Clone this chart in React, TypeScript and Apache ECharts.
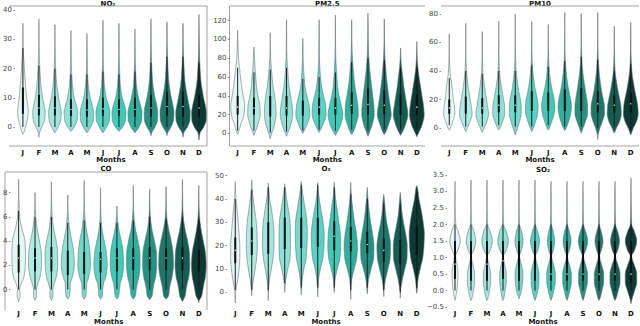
import React, { useEffect, useRef } from 'react';
import * as echarts from 'echarts';

const months = ['J', 'F', 'M', 'A', 'M', 'J', 'J', 'A', 'S', 'O', 'N', 'D'];
const monthColors = ['#e3f8f5', '#aeece4', '#a0e7df', '#8be2d7', '#6fdacd', '#55d3c4', '#3ccbb9', '#2cb09f', '#229282', '#1b786b', '#135e53', '#0b3b34'];

// ---------- NO2 ----------
const no2Levels = [-4, -2, 0, 2.5, 5, 7.5, 10, 12.5, 15, 20, 25, 30, 35, 40];
const no2Widths = [
  [0, 0.1, 0.35, 0.6, 0.72, 0.65, 0.5, 0.42, 0.33, 0.2, 0.08, 0.03, 0.01, 0],
  [0, 0.08, 0.4, 0.78, 0.85, 0.7, 0.5, 0.35, 0.25, 0.12, 0.05, 0.02, 0.01, 0],
  [0, 0.05, 0.45, 0.8, 0.85, 0.7, 0.5, 0.35, 0.22, 0.1, 0.04, 0.02, 0.01, 0],
  [0, 0, 0.45, 0.85, 0.92, 0.72, 0.45, 0.3, 0.18, 0.08, 0.03, 0.01, 0, 0],
  [0, 0.05, 0.5, 0.88, 0.92, 0.7, 0.45, 0.28, 0.16, 0.07, 0.03, 0.01, 0, 0],
  [0, 0.05, 0.5, 0.9, 0.95, 0.75, 0.45, 0.28, 0.17, 0.08, 0.03, 0.02, 0.01, 0],
  [0, 0, 0.5, 0.9, 0.95, 0.75, 0.45, 0.28, 0.17, 0.08, 0.03, 0.02, 0.01, 0],
  [0, 0.05, 0.55, 0.92, 0.95, 0.75, 0.48, 0.3, 0.18, 0.08, 0.03, 0.01, 0, 0],
  [0, 0.1, 0.55, 0.9, 0.92, 0.78, 0.55, 0.38, 0.25, 0.12, 0.05, 0.02, 0.01, 0],
  [0, 0.1, 0.55, 0.9, 0.95, 0.8, 0.6, 0.42, 0.28, 0.14, 0.06, 0.02, 0.01, 0],
  [0, 0.12, 0.6, 0.95, 0.98, 0.82, 0.62, 0.45, 0.3, 0.15, 0.06, 0.02, 0.01, 0],
  [0.02, 0.15, 0.65, 0.98, 1.0, 0.85, 0.62, 0.45, 0.3, 0.15, 0.06, 0.03, 0.01, 0],
];
const no2Lo = [-2.5, -3.5, -2, -1.5, -2, -2, -1.5, -2, -3, -3, -3.5, -4.5];
const no2Hi = [35.5, 37, 35, 33, 32, 36.5, 35.5, 33.5, 37, 36, 35.5, 38.5];
const no2Q1 = [4.5, 4, 4, 3.8, 3.5, 3.8, 3.8, 3.5, 3.5, 3.8, 3.5, 3.5];
const no2Med = [8, 6.5, 6.5, 6, 5.8, 6.2, 6, 6, 6.5, 7, 7, 6.5];
const no2Q3 = [13.5, 11, 10.5, 9.5, 9.5, 10, 9.5, 10, 11, 12, 12, 11];
const no2WhiskLo = [0, 0, 0, 0, 0, 0, 0, 0, 0, 0, 0, 0];
const no2WhiskHi = [27, 21, 20, 18, 18, 19, 18, 19, 22, 24, 24, 22];
const no2Ticks = [0, 10, 20, 30, 40];

// ---------- PM2.5 ----------
const pm25Levels = [-10, -5, 0, 10, 20, 30, 40, 50, 60, 70, 80, 100, 120, 130];
const pm25Widths = [
  [0, 0, 0.05, 0.45, 0.85, 0.95, 0.75, 0.55, 0.4, 0.25, 0.12, 0.03, 0, 0],
  [0, 0, 0.1, 0.55, 0.85, 0.8, 0.55, 0.35, 0.25, 0.15, 0.08, 0, 0, 0],
  [0, 0.02, 0.2, 0.6, 0.8, 0.75, 0.6, 0.4, 0.25, 0.15, 0.06, 0.01, 0, 0],
  [0, 0, 0.15, 0.6, 0.85, 0.75, 0.55, 0.35, 0.22, 0.15, 0.06, 0.02, 0.01, 0],
  [0, 0, 0.05, 0.6, 0.95, 0.85, 0.55, 0.3, 0.18, 0.1, 0.05, 0.01, 0, 0],
  [0, 0, 0, 0.55, 0.95, 0.9, 0.6, 0.35, 0.2, 0.1, 0.05, 0.02, 0.01, 0],
  [0, 0, 0.15, 0.75, 1.0, 0.8, 0.5, 0.3, 0.2, 0.12, 0.06, 0.02, 0.01, 0],
  [0, 0, 0.1, 0.6, 0.9, 0.85, 0.65, 0.45, 0.3, 0.2, 0.1, 0.03, 0.01, 0],
  [0, 0, 0.15, 0.6, 0.85, 0.8, 0.65, 0.5, 0.35, 0.22, 0.12, 0.04, 0.02, 0],
  [0, 0, 0.1, 0.6, 0.95, 0.8, 0.6, 0.45, 0.3, 0.2, 0.1, 0.03, 0.01, 0],
  [0, 0, 0.15, 0.7, 1.0, 0.85, 0.65, 0.45, 0.3, 0.15, 0.05, 0, 0, 0],
  [0, 0, 0.2, 0.75, 1.0, 0.9, 0.7, 0.5, 0.3, 0.15, 0.06, 0, 0, 0],
];
const pm25Lo = [-1, -2, -5.5, -3, 0, 1, -2, -1, -3, -1, -2, -3.5];
const pm25Hi = [109.5, 92, 107, 121, 101, 121, 126, 121, 128, 122, 91, 98];
const pm25Q1 = [20, 20, 18, 19, 19, 20, 20, 21, 20, 20, 20, 20];
const pm25Med = [28, 27, 26, 27, 26, 28, 27, 30, 31, 30, 29, 28];
const pm25Q3 = [40, 38, 40, 40, 35, 38, 38, 44, 48, 46, 42, 42];
const pm25WhiskLo = [3, 3, 1, 2, 3, 4, 3, 4, 3, 4, 4, 4];
const pm25WhiskHi = [70, 65, 68, 70, 58, 60, 65, 76, 80, 78, 70, 70];
const pm25Ticks = [0, 20, 40, 60, 80, 100, 120];

// ---------- PM10 ----------
const pm10Levels = [-10, -5, 0, 5, 10, 15, 20, 25, 30, 40, 50, 60, 70, 80, 85];
const pm10Widths = [
  [0, 0, 0.15, 0.5, 0.75, 0.7, 0.55, 0.45, 0.35, 0.1, 0.03, 0.01, 0, 0, 0],
  [0, 0, 0.2, 0.6, 0.85, 0.75, 0.6, 0.45, 0.3, 0.1, 0.03, 0.01, 0.005, 0, 0],
  [0, 0, 0.25, 0.65, 0.85, 0.72, 0.58, 0.42, 0.28, 0.08, 0.03, 0.01, 0, 0, 0],
  [0, 0, 0.15, 0.55, 0.8, 0.8, 0.65, 0.48, 0.32, 0.1, 0.03, 0.01, 0.005, 0, 0],
  [0, 0.02, 0.3, 0.6, 0.8, 0.8, 0.7, 0.5, 0.35, 0.12, 0.04, 0.015, 0.01, 0, 0],
  [0, 0, 0.2, 0.55, 0.8, 0.85, 0.75, 0.55, 0.38, 0.15, 0.05, 0.02, 0.005, 0, 0],
  [0, 0, 0.15, 0.5, 0.8, 0.9, 0.8, 0.6, 0.4, 0.15, 0.05, 0.015, 0.005, 0, 0],
  [0, 0, 0.2, 0.55, 0.8, 0.9, 0.8, 0.6, 0.42, 0.18, 0.06, 0.02, 0.01, 0.005, 0],
  [0, 0.02, 0.25, 0.6, 0.85, 0.85, 0.75, 0.6, 0.45, 0.2, 0.07, 0.025, 0.01, 0.005, 0],
  [0, 0.05, 0.3, 0.65, 0.9, 0.9, 0.75, 0.55, 0.4, 0.18, 0.06, 0.02, 0.01, 0.005, 0],
  [0, 0.02, 0.3, 0.75, 0.95, 0.9, 0.75, 0.55, 0.38, 0.12, 0.04, 0.015, 0.005, 0, 0],
  [0, 0.05, 0.35, 0.8, 1.0, 0.95, 0.8, 0.6, 0.42, 0.15, 0.05, 0.02, 0.01, 0, 0],
];
const pm10Lo = [-1.5, -2.6, -3, -1.4, -5, -2.6, -1.4, -1.9, -3.7, -8, -3.7, -5];
const pm10Hi = [66, 73.5, 67.6, 75, 80, 74.6, 72.7, 81, 80.5, 81, 71.6, 74];
const pm10Q1 = [10, 10, 10, 11, 11, 12, 12, 12, 12, 11, 11, 11];
const pm10Med = [14, 15, 14, 16, 16, 18, 18, 18, 18, 17, 16, 17];
const pm10Q3 = [20, 22, 21, 23, 23, 26, 25, 27, 28, 26, 23, 25];
const pm10WhiskLo = [2, 1, 1, 2, 1, 1, 2, 1, 1, 0, 1, 0];
const pm10WhiskHi = [35, 40, 38, 40, 40, 44, 43, 47, 50, 48, 40, 45];
const pm10Ticks = [0, 20, 40, 60, 80];

// ---------- CO ----------
const coLevels = [-1.5, -1, -0.5, 0, 0.5, 1, 2, 3, 4, 5, 6, 7, 8, 9, 9.5];
const coWidths = [
  [0, 0, 0.2, 0.15, 0.35, 0.7, 0.9, 0.92, 0.85, 0.45, 0.15, 0.06, 0.02, 0.01, 0],
  [0, 0, 0.22, 0.2, 0.4, 0.65, 0.88, 0.85, 0.6, 0.3, 0.1, 0.03, 0.01, 0, 0],
  [0, 0, 0.22, 0.2, 0.4, 0.65, 0.85, 0.85, 0.65, 0.3, 0.12, 0.04, 0.015, 0, 0],
  [0, 0, 0.25, 0.32, 0.35, 0.6, 0.88, 0.82, 0.55, 0.25, 0.08, 0.02, 0, 0, 0],
  [0, 0, 0.25, 0.3, 0.35, 0.6, 0.85, 0.8, 0.6, 0.3, 0.1, 0.03, 0.01, 0, 0],
  [0, 0, 0.25, 0.3, 0.4, 0.7, 0.9, 0.8, 0.5, 0.2, 0.06, 0.02, 0.01, 0, 0],
  [0, 0, 0.25, 0.35, 0.45, 0.7, 0.9, 0.85, 0.6, 0.25, 0.06, 0.01, 0, 0, 0],
  [0, 0, 0.3, 0.4, 0.55, 0.75, 0.92, 0.9, 0.65, 0.3, 0.1, 0.03, 0.01, 0, 0],
  [0, 0, 0.35, 0.45, 0.6, 0.8, 0.95, 0.92, 0.65, 0.3, 0.1, 0.03, 0.01, 0, 0],
  [0, 0, 0.35, 0.45, 0.6, 0.8, 1.0, 0.95, 0.7, 0.35, 0.1, 0.03, 0.01, 0, 0],
  [0, 0, 0.38, 0.5, 0.65, 0.85, 1.0, 0.95, 0.7, 0.35, 0.12, 0.04, 0.02, 0.01, 0],
  [0, 0.02, 0.4, 0.55, 0.7, 0.88, 1.0, 0.9, 0.6, 0.3, 0.1, 0.03, 0.01, 0, 0],
];
const coLo = [-1, -0.9, -0.9, -0.8, -0.8, -0.8, -0.8, -0.8, -0.85, -0.8, -1, -1.1];
const coHi = [9.1, 8.0, 8.9, 7.8, 9.0, 8.4, 6.9, 8.6, 8.3, 8.5, 9.1, 8.6];
const coQ1 = [1.4, 1.5, 1.5, 1.2, 1.3, 1.4, 1.5, 1.6, 1.6, 1.6, 1.6, 1.5];
const coMed = [2.6, 2.6, 2.6, 2.4, 2.4, 2.5, 2.6, 2.6, 2.6, 2.6, 2.6, 2.4];
const coQ3 = [3.7, 3.4, 3.5, 3.2, 3.1, 3.1, 3.4, 3.4, 3.5, 3.4, 3.5, 3.3];
const coWhiskLo = [0, 0, 0, 0, 0, 0, 0, 0, 0, 0, 0, 0];
const coWhiskHi = [6.5, 6, 6, 5.5, 5.7, 5.5, 5.5, 5.7, 6, 5.8, 6, 5.8];
const coTicks = [0, 2, 4, 6, 8];

// ---------- O3 ----------
const o3Levels = [-5, 0, 5, 10, 15, 20, 25, 30, 35, 40, 45, 50];
const o3Widths = [
  [0, 0.05, 0.3, 0.5, 0.6, 0.6, 0.5, 0.38, 0.25, 0.1, 0.03, 0],
  [0, 0.02, 0.2, 0.45, 0.65, 0.72, 0.7, 0.6, 0.4, 0.2, 0.05, 0],
  [0, 0.02, 0.15, 0.4, 0.65, 0.75, 0.75, 0.65, 0.45, 0.2, 0.05, 0],
  [0, 0, 0.12, 0.4, 0.7, 0.75, 0.75, 0.7, 0.5, 0.25, 0.05, 0],
  [0, 0.02, 0.12, 0.35, 0.65, 0.75, 0.8, 0.75, 0.55, 0.3, 0.08, 0],
  [0, 0.02, 0.1, 0.35, 0.7, 0.82, 0.85, 0.7, 0.45, 0.2, 0.05, 0],
  [0, 0, 0.1, 0.4, 0.75, 0.85, 0.8, 0.6, 0.4, 0.18, 0.05, 0],
  [0, 0.02, 0.12, 0.45, 0.8, 0.88, 0.75, 0.5, 0.3, 0.12, 0.03, 0],
  [0, 0.02, 0.15, 0.5, 0.85, 0.88, 0.7, 0.45, 0.25, 0.1, 0.02, 0],
  [0, 0.02, 0.2, 0.55, 0.85, 0.9, 0.7, 0.4, 0.2, 0.08, 0.01, 0],
  [0, 0.03, 0.25, 0.6, 0.9, 0.92, 0.72, 0.42, 0.2, 0.08, 0.02, 0],
  [0, 0.02, 0.15, 0.45, 0.8, 0.95, 1.0, 0.85, 0.6, 0.3, 0.08, 0],
];
const o3Lo = [-4.5, -1.4, -3.5, 0, -1.1, -2, 0, -3, -0.7, -1.8, -2.5, -0.4];
const o3Hi = [47.5, 48.2, 46.8, 46.5, 47.5, 47, 47.2, 47.2, 45, 42, 42.8, 45.7];
const o3Q1 = [12.5, 16, 16.5, 18.5, 19, 19.5, 18, 17.5, 16.7, 13, 12, 16];
const o3Med = [18, 22, 23, 25, 25, 25, 24, 22, 20.5, 18, 17, 23];
const o3Q3 = [23.5, 27.8, 30, 32, 32, 32, 30.5, 28, 26, 23, 22.5, 28.5];
const o3WhiskLo = [1, 1, 1, 4, 2, 2, 2, 1, 2, 1, 0, 2];
const o3WhiskHi = [40, 44, 45, 45, 46, 46, 45, 42, 40, 38, 38, 43];
const o3Ticks = [0, 10, 20, 30, 40, 50];

// ---------- SO2 ----------
const so2Levels = [-0.5, -0.25, 0, 0.25, 0.5, 0.75, 0.95, 1.05, 1.2, 1.5, 1.8, 2.0, 2.5, 3, 3.5];
const so2Widths = [
  [0, 0.05, 0.25, 0.38, 0.42, 0.3, 0.12, 0.08, 0.35, 0.72, 0.45, 0.12, 0.02, 0.01, 0],
  [0, 0.1, 0.35, 0.5, 0.5, 0.3, 0.1, 0.06, 0.35, 0.65, 0.4, 0.1, 0.02, 0.01, 0],
  [0, 0.1, 0.35, 0.5, 0.5, 0.3, 0.1, 0.06, 0.4, 0.72, 0.45, 0.1, 0.02, 0.01, 0],
  [0, 0.1, 0.3, 0.45, 0.45, 0.28, 0.1, 0.07, 0.4, 0.72, 0.45, 0.1, 0.02, 0.01, 0],
  [0, 0.1, 0.35, 0.5, 0.55, 0.38, 0.15, 0.08, 0.3, 0.55, 0.35, 0.08, 0.02, 0.01, 0],
  [0, 0.1, 0.38, 0.55, 0.55, 0.35, 0.12, 0.08, 0.35, 0.62, 0.35, 0.08, 0.02, 0.01, 0],
  [0, 0.1, 0.38, 0.58, 0.6, 0.4, 0.15, 0.08, 0.3, 0.5, 0.3, 0.07, 0.02, 0.01, 0],
  [0, 0.1, 0.38, 0.6, 0.6, 0.38, 0.13, 0.07, 0.3, 0.55, 0.32, 0.07, 0.02, 0.01, 0],
  [0, 0.1, 0.38, 0.62, 0.62, 0.4, 0.15, 0.08, 0.35, 0.65, 0.35, 0.07, 0.02, 0.01, 0],
  [0, 0.12, 0.4, 0.65, 0.65, 0.4, 0.15, 0.08, 0.3, 0.55, 0.3, 0.06, 0.02, 0.01, 0],
  [0, 0.12, 0.45, 0.7, 0.7, 0.45, 0.15, 0.08, 0.35, 0.62, 0.35, 0.07, 0.02, 0.01, 0],
  [0, 0.15, 0.5, 0.8, 0.8, 0.5, 0.18, 0.1, 0.45, 0.8, 0.45, 0.1, 0.03, 0.01, 0],
];
const so2Lo = [-0.3, -0.3, -0.3, -0.3, -0.25, -0.3, -0.3, -0.3, -0.3, -0.3, -0.3, -0.4];
const so2Hi = [3.3, 3.35, 3.35, 3.35, 3.35, 3.35, 3.3, 3.3, 3.3, 3.3, 3.3, 3.4];
const so2Q1 = [0.35, 0.3, 0.3, 0.35, 0.3, 0.3, 0.3, 0.3, 0.3, 0.3, 0.3, 0.25];
const so2Med = [0.8, 0.6, 0.8, 0.9, 0.6, 0.6, 0.5, 0.5, 0.5, 0.5, 0.5, 0.5];
const so2Q3 = [1.5, 1.5, 1.5, 1.5, 1.5, 1.5, 1.5, 1.5, 1.5, 1.5, 1.5, 1.5];
const so2WhiskLo = [0, 0, 0, 0, 0, 0, 0, 0, 0, 0, 0, 0];
const so2WhiskHi = [2.0, 2.0, 2.0, 2.0, 2.0, 2.0, 2.0, 2.0, 2.0, 2.0, 2.0, 2.0];
const so2Ticks = [-0.5, 0, 0.5, 1, 1.5, 2, 2.5, 3, 3.5];

const FONT = 'DejaVu Sans';

type Panel = {
  title: string;
  levels: number[]; widths: number[][]; lo: number[]; hi: number[];
  q1: number[]; med: number[]; q3: number[]; wlo: number[]; whi: number[];
  ticks: number[]; min: number; max: number; decimals: number;
  grid: { left: number; top: number; width: number; height: number };
  titleY: number; spines: string[]; halfScale: number;
};

const panels: Panel[] = [
  { title: 'NO₂', levels: no2Levels, widths: no2Widths, lo: no2Lo, hi: no2Hi, q1: no2Q1, med: no2Med, q3: no2Q3, wlo: no2WhiskLo, whi: no2WhiskHi, ticks: no2Ticks, min: -6.5, max: 41.4, decimals: 0, grid: { left: 9, top: 6, width: 198, height: 140 }, titleY: 3.5, spines: ['top', 'bottom', 'right'], halfScale: 0.46 },
  { title: 'PM2.5', levels: pm25Levels, widths: pm25Widths, lo: pm25Lo, hi: pm25Hi, q1: pm25Q1, med: pm25Med, q3: pm25Q3, wlo: pm25WhiskLo, whi: pm25WhiskHi, ticks: pm25Ticks, min: -13.3, max: 135.6, decimals: 0, grid: { left: 229.5, top: 6, width: 195.5, height: 140 }, titleY: 3.5, spines: ['left', 'top', 'bottom'], halfScale: 0.45 },
  { title: 'PM10', levels: pm10Levels, widths: pm10Widths, lo: pm10Lo, hi: pm10Hi, q1: pm10Q1, med: pm10Med, q3: pm10Q3, wlo: pm10WhiskLo, whi: pm10WhiskHi, ticks: pm10Ticks, min: -12.6, max: 85.6, decimals: 0, grid: { left: 441, top: 6, width: 198, height: 140 }, titleY: 3.5, spines: ['top', 'bottom'], halfScale: 0.45 },
  { title: 'CO', levels: coLevels, widths: coWidths, lo: coLo, hi: coHi, q1: coQ1, med: coMed, q3: coQ3, wlo: coWhiskLo, whi: coWhiskHi, ticks: coTicks, min: -1.45, max: 9.7, decimals: 0, grid: { left: 5, top: 172, width: 202, height: 138 }, titleY: 168.5, spines: ['left', 'top', 'right'], halfScale: 0.45 },
  { title: 'O₃', levels: o3Levels, widths: o3Widths, lo: o3Lo, hi: o3Hi, q1: o3Q1, med: o3Med, q3: o3Q3, wlo: o3WhiskLo, whi: o3WhiskHi, ticks: o3Ticks, min: -6.3, max: 51.55, decimals: 0, grid: { left: 227, top: 172, width: 198, height: 138 }, titleY: 168.5, spines: [], halfScale: 0.46 },
  { title: 'SO₂', levels: so2Levels, widths: so2Widths, lo: so2Lo, hi: so2Hi, q1: so2Q1, med: so2Med, q3: so2Q3, wlo: so2WhiskLo, whi: so2WhiskHi, ticks: so2Ticks, min: -0.5, max: 3.59, decimals: 1, grid: { left: 447, top: 172, width: 192, height: 138 }, titleY: 169.5, spines: [], halfScale: 0.45 },
];

function pchip(knots: number[][], steps: number): number[][] {
  const n = knots.length;
  const xs = knots.map((k) => k[0]);
  const ys = knots.map((k) => k[1]);
  const h: number[] = [];
  const d: number[] = [];
  for (let k = 0; k < n - 1; k++) {
    h.push(xs[k + 1] - xs[k]);
    d.push((ys[k + 1] - ys[k]) / h[k]);
  }
  const m = new Array(n).fill(0);
  m[0] = d[0];
  m[n - 1] = d[n - 2];
  for (let k = 1; k < n - 1; k++) {
    if (d[k - 1] * d[k] <= 0) m[k] = 0;
    else {
      const w1 = 2 * h[k] + h[k - 1];
      const w2 = h[k] + 2 * h[k - 1];
      m[k] = (w1 + w2) / (w1 / d[k - 1] + w2 / d[k]);
    }
  }
  const out: number[][] = [];
  for (let k = 0; k < n - 1; k++) {
    for (let s = 0; s < steps; s++) {
      const t = s / steps;
      const t2 = t * t;
      const t3 = t2 * t;
      const h00 = 2 * t3 - 3 * t2 + 1;
      const h10 = t3 - 2 * t2 + t;
      const h01 = -2 * t3 + 3 * t2;
      const h11 = t3 - t2;
      const y = h00 * ys[k] + h10 * h[k] * m[k] + h01 * ys[k + 1] + h11 * h[k] * m[k + 1];
      out.push([xs[k] + t * h[k], Math.max(0, y)]);
    }
  }
  out.push([xs[n - 1], ys[n - 1]]);
  return out;
}

function makeRender(p: Panel) {
  return (_params: any, api: any) => {
    const i = api.value(0) as number;
    const band = api.size([1, 0])[0];
    const cx = api.coord([i, 0])[0];
    const yOf = (v: number) => api.coord([i, v])[1];
    const knots: number[][] = [[p.lo[i], 0]];
    p.levels.forEach((lv, k) => {
      if (lv > p.lo[i] && lv < p.hi[i]) knots.push([lv, p.widths[i][k]]);
    });
    knots.push([p.hi[i], 0]);
    const samples = pchip(knots, 10);
    const hw = band * p.halfScale;
    const right = samples.map(([v, w]) => [cx + w * hw, yOf(v)]);
    const left = samples.slice().reverse().map(([v, w]) => [cx - w * hw, yOf(v)]);
    return {
      type: 'group',
      children: [
        { type: 'polygon', shape: { points: right.concat(left) }, style: { fill: monthColors[i], stroke: '#6f6f6f', lineWidth: 0.6 } },
        { type: 'line', shape: { x1: cx, y1: yOf(p.wlo[i]), x2: cx, y2: yOf(p.whi[i]) }, style: { stroke: '#1c1c1c', lineWidth: 1 } },
        { type: 'line', shape: { x1: cx, y1: yOf(p.q1[i]), x2: cx, y2: yOf(p.q3[i]) }, style: { stroke: '#111111', lineWidth: 2 } },
        { type: 'circle', shape: { cx, cy: yOf(p.med[i]), r: 0.7 }, style: { fill: '#e8e8e8' } },
      ],
    };
  };
}

function fmt(v: number, dec: number) {
  const s = Math.abs(v).toFixed(dec);
  return v < 0 ? '−' + s : s;
}

export default function App() {
  const ref = useRef<HTMLDivElement>(null);
  useEffect(() => {
    if (!ref.current) return;
    const chart = echarts.init(ref.current, undefined, { renderer: 'svg' });
    const spineColor = '#a3a3a3';
    const graphics: any[] = [];
    panels.forEach((p) => {
      const g = p.grid;
      const cx = g.left + g.width / 2;
      graphics.push({
        type: 'text', x: cx, y: p.titleY,
        style: { text: p.title, textAlign: 'center', textVerticalAlign: 'middle', fontFamily: FONT, fontSize: 7, fontWeight: 'bold', fill: '#111' },
      });
      const L = g.left, R = g.left + g.width, T = g.top, B = g.top + g.height;
      const add = (x1: number, y1: number, x2: number, y2: number) =>
        graphics.push({ type: 'line', shape: { x1, y1, x2, y2 }, style: { stroke: spineColor, lineWidth: 1 }, z: 0 });
      if (p.spines.includes('top')) add(L, T, R, T);
      if (p.spines.includes('bottom')) add(L, B, R, B);
      if (p.spines.includes('left')) add(L, T, L, B);
      if (p.spines.includes('right')) add(R, T, R, B);
    });

    chart.setOption({
      animation: false,
      backgroundColor: '#ffffff',
      grid: panels.map((p) => ({ ...p.grid, containLabel: false })),
      xAxis: panels.map((p, k) => ({
        type: 'category',
        gridIndex: k,
        data: months,
        boundaryGap: true,
        axisLine: { show: false },
        axisTick: { show: false },
        splitLine: { show: false },
        axisLabel: { interval: 0, fontSize: 7, fontWeight: 'bold', color: '#111', margin: 3, fontFamily: FONT },
        name: 'Months',
        nameLocation: 'middle',
        nameGap: 7.5,
        nameTextStyle: { fontSize: 7, fontWeight: 'bold', color: '#111', fontFamily: FONT },
      })),
      yAxis: panels.map((p, k) => ({
        type: 'value',
        gridIndex: k,
        min: p.min,
        max: p.max,
        axisLine: { show: false },
        splitLine: { show: false },
        axisTick: { show: true, length: 1.5, customValues: p.ticks, lineStyle: { color: '#666', width: 0.8 } },
        axisLabel: {
          customValues: p.ticks,
          fontSize: 7,
          color: '#444',
          margin: 3,
          fontFamily: FONT,
          formatter: (v: number) => fmt(v, p.decimals),
        },
      })),
      graphic: graphics,
      series: panels.map((p, k) => ({
        type: 'custom',
        xAxisIndex: k,
        yAxisIndex: k,
        renderItem: makeRender(p),
        data: months.map((_, i) => [i, p.med[i]]),
        encode: { x: 0, y: 1 },
        clip: false,
        silent: true,
      })),
    });
    return () => chart.dispose();
  }, []);
  return <div ref={ref} style={{ position: 'fixed', left: 0, top: 0, width: 640, height: 326 }} />;
}
